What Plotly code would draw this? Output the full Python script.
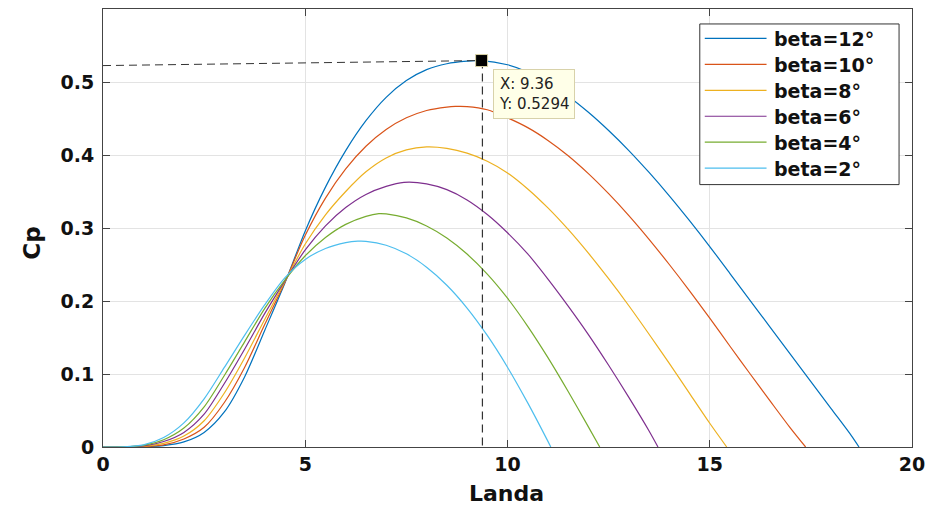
import plotly.graph_objects as go

# ---------------- data ----------------
landa_b12 = [0, 0.5, 1, 1.5, 2, 2.5, 3, 3.5, 4, 4.5, 5, 5.5, 6, 6.5, 7, 7.5, 8, 8.5, 9, 9.36,
             10, 10.5, 11, 11.5, 12, 12.5, 13, 13.5, 14, 14.5, 15, 15.5, 16, 16.5, 17, 17.5, 18, 18.5, 18.69]
cp_b12 = [0, 0, 0.0003, 0.002, 0.007, 0.02, 0.048, 0.096, 0.16, 0.225, 0.296, 0.356, 0.406, 0.447, 0.479,
          0.502, 0.517, 0.525, 0.5285, 0.5294, 0.5236, 0.5136, 0.4991, 0.4806, 0.4586, 0.4336, 0.4061,
          0.3761, 0.3441, 0.3101, 0.2746, 0.2376, 0.2006, 0.1636, 0.1266, 0.0896, 0.0526, 0.0156, 0]

landa_b10 = [0, 0.5, 1, 1.5, 2, 2.5, 3, 3.5, 4, 4.5, 5, 5.5, 6, 6.5, 7, 7.5, 8, 8.5, 8.71, 9, 9.5,
             10, 10.5, 11, 11.5, 12, 12.5, 13, 13.5, 14, 14.5, 15, 15.5, 16, 16.5, 17, 17.37]
cp_b10 = [0, 0, 0.0006, 0.003, 0.011, 0.027, 0.061, 0.109, 0.168, 0.226, 0.29, 0.341, 0.381, 0.412, 0.435,
          0.451, 0.461, 0.4657, 0.4666, 0.4664, 0.462, 0.451, 0.4375, 0.42, 0.399, 0.3745, 0.347, 0.317,
          0.2845, 0.25, 0.214, 0.1765, 0.138, 0.1, 0.0625, 0.0255, 0]

landa_b8 = [0, 0.5, 1, 1.5, 2, 2.5, 3, 3.5, 4, 4.5, 5, 5.5, 6, 6.5, 7, 7.5, 8, 8.5, 9, 9.5,
            10, 10.5, 11, 11.5, 12, 12.5, 13, 13.5, 14, 14.5, 15, 15.42]
cp_b8 = [0, 0, 0.001, 0.005, 0.015, 0.036, 0.074, 0.122, 0.175, 0.227, 0.278, 0.318, 0.35, 0.377, 0.396,
         0.407, 0.411, 0.409, 0.4025, 0.3915, 0.3755, 0.3535, 0.3275, 0.298, 0.2655, 0.2305, 0.1935,
         0.1545, 0.1145, 0.0735, 0.0325, 0]

landa_b6 = [0, 0.5, 1, 1.5, 2, 2.5, 3, 3.5, 4, 4.5, 5, 5.5, 6, 6.5, 7, 7.44, 8, 8.5, 9, 9.5,
            10, 10.5, 11, 11.5, 12, 12.5, 13, 13.5, 13.72]
cp_b6 = [0, 0, 0.0015, 0.0075, 0.02, 0.045, 0.087, 0.134, 0.183, 0.228, 0.27, 0.303, 0.328, 0.346, 0.357,
         0.3625, 0.3605, 0.3525, 0.3385, 0.3185, 0.2935, 0.2645, 0.23, 0.193, 0.154, 0.112, 0.068, 0.022, 0]

landa_b4 = [0, 0.5, 1, 1.5, 2, 2.5, 3, 3.5, 4, 4.5, 5, 5.5, 6, 6.5, 6.82, 7, 7.5, 8, 8.5, 9, 9.5,
            10, 10.5, 11, 11.5, 12, 12.28]
cp_b4 = [0, 0.0001, 0.0022, 0.01, 0.026, 0.055, 0.098, 0.144, 0.19, 0.229, 0.262, 0.287, 0.305, 0.316,
         0.3197, 0.3193, 0.3138, 0.3028, 0.2863, 0.2643, 0.2368, 0.2038, 0.1653, 0.1224, 0.076, 0.0276, 0]

landa_b2 = [0, 0.5, 1, 1.5, 2, 2.5, 3, 3.5, 4, 4.5, 5, 5.5, 6, 6.3, 6.5, 7, 7.5, 8, 8.5, 9, 9.5,
            10, 10.5, 11, 11.07]
cp_b2 = [0, 0.0003, 0.003, 0.013, 0.033, 0.066, 0.109, 0.153, 0.195, 0.232, 0.257, 0.272, 0.28, 0.282,
         0.2818, 0.2764, 0.2646, 0.2463, 0.2216, 0.1904, 0.1528, 0.1093, 0.0604, 0.0077, 0]

series_names = ["beta=12°", "beta=10°", "beta=8°", "beta=6°", "beta=4°", "beta=2°"]
series_x = [landa_b12, landa_b10, landa_b8, landa_b6, landa_b4, landa_b2]
series_y = [cp_b12, cp_b10, cp_b8, cp_b6, cp_b4, cp_b2]
colors = ["#0072BD", "#D95319", "#EDB120", "#7E2F8E", "#77AC30", "#4DBEEE"]

# data cursor
cursor_x = 9.36
cursor_y = 0.5294
guide_h_x = [0, 9.36]
guide_h_y = [0.5225, 0.5294]
guide_v_x = [9.38, 9.38]
guide_v_y = [0.5294, 0]

x_ticks = [0, 5, 10, 15, 20]
y_ticks = [0, 0.1, 0.2, 0.3, 0.4, 0.5]
y_tick_labels = ["0", "0.1", "0.2", "0.3", "0.4", "0.5"]

# ---------------- figure ----------------
W, H = 933, 508
ML, MR, MT, MB = 103, 18, 8, 61
PW, PH = W - ML - MR, H - MT - MB


def px(x):
    return (x - ML) / PW


def py(y):
    return (H - MB - y) / PH


fig = go.Figure()
for name, xs, ys, c in zip(series_names, series_x, series_y, colors):
    fig.add_trace(go.Scatter(x=xs, y=ys, mode="lines", name=name,
                             line=dict(color=c, width=1.2, shape="spline", smoothing=0.8),
                             showlegend=False, hoverinfo="skip"))

fig.add_trace(go.Scatter(x=guide_h_x, y=guide_h_y, mode="lines", showlegend=False,
                         line=dict(color="#333333", width=1, dash="8px,5px"), hoverinfo="skip"))
fig.add_trace(go.Scatter(x=guide_v_x, y=guide_v_y, mode="lines", showlegend=False,
                         line=dict(color="#333333", width=1.2, dash="8px,5px"), hoverinfo="skip"))
fig.add_trace(go.Scatter(x=[cursor_x], y=[cursor_y], mode="markers", showlegend=False,
                         marker=dict(symbol="square", size=12, color="black",
                                     line=dict(color="#d9d3a6", width=1)), hoverinfo="skip"))

shapes = []
annotations = []

# manual legend (MATLAB style)
leg_l, leg_r, leg_t, leg_b = 702, 902, 23, 184
shapes.append(dict(type="rect", xref="paper", yref="paper",
                   x0=px(leg_l), x1=px(leg_r), y0=py(leg_b), y1=py(leg_t),
                   line=dict(color="#333333", width=1), fillcolor="white", layer="above"))
for i, (name, c) in enumerate(zip(series_names, colors)):
    yy = 37.5 + 26 * i
    shapes.append(dict(type="line", xref="paper", yref="paper",
                       x0=px(707), x1=px(769), y0=py(yy), y1=py(yy),
                       line=dict(color=c, width=1.2), layer="above"))
    annotations.append(dict(xref="paper", yref="paper", x=px(774), y=py(yy + 1),
                            xanchor="left", yanchor="middle", showarrow=False, text="<b>%s</b>" % name,
                            font=dict(family="DejaVu Sans", size=19, color="#111111")))

# data tip
annotations.append(dict(xref="paper", yref="paper", x=px(494), y=py(68), xanchor="left", yanchor="top",
                        showarrow=False, align="left", text="X: 9.36<br>Y: 0.5294",
                        font=dict(family="DejaVu Sans", size=15, color="#222222"),
                        bgcolor="#FFFFE8", bordercolor="#D8D2AA", borderwidth=1, borderpad=5))

# axis titles
annotations.append(dict(xref="paper", yref="paper", x=px(508), y=py(494), xanchor="center", yanchor="middle",
                        showarrow=False, text="<b>Landa</b>",
                        font=dict(family="DejaVu Sans", size=22, color="#111111")))
annotations.append(dict(xref="paper", yref="paper", x=px(32), y=py(243), xanchor="center", yanchor="middle",
                        showarrow=False, text="<b>Cp</b>", textangle=-90,
                        font=dict(family="DejaVu Sans", size=23, color="#111111")))

axis_common = dict(showline=True, linecolor="#444444", linewidth=1, mirror="ticks",
                   ticks="inside", ticklen=7, tickcolor="#444444", showgrid=True,
                   gridcolor="#E3E3E3", gridwidth=1, zeroline=False,
                   tickfont=dict(family="DejaVu Sans", size=19, color="#111111", weight="bold"))

fig.update_layout(
    width=W, height=H, margin=dict(l=ML, r=MR, t=MT, b=MB),
    paper_bgcolor="white", plot_bgcolor="white",
    xaxis=dict(range=[0, 20], tickvals=x_ticks, ticktext=[str(v) for v in x_ticks], **axis_common),
    yaxis=dict(range=[0, 0.6], tickvals=y_ticks, ticktext=y_tick_labels, ticklabelstandoff=4,
               **axis_common),
    shapes=shapes, annotations=annotations, showlegend=False,
)

fig.write_html("out.html", config={"displayModeBar": False},
               post_script="document.body.style.margin='0';document.body.style.overflow='hidden';")
